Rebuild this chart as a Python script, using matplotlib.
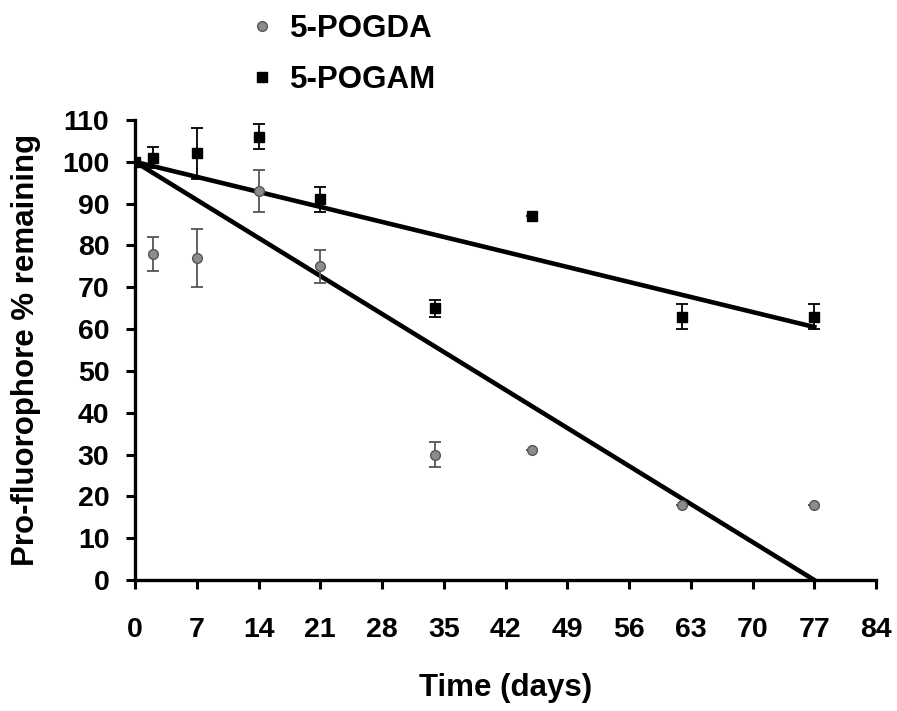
import matplotlib
matplotlib.use("Agg")
import matplotlib.pyplot as plt
from matplotlib.lines import Line2D

plt.rcParams["font.family"] = ["Liberation Sans", "DejaVu Sans"]
plt.rcParams["font.weight"] = "bold"

# measured time points (days)
days = [0, 2, 7, 14, 21, 34, 45, 62, 77]

pogda = [100, 78, 77, 93, 75, 30, 31, 18, 18]
pogda_err = [0, 4, 7, 5, 4, 3, 0, 0, 0]

pogam = [100, 101, 102, 106, 91, 65, 87, 63, 63]
pogam_err = [0, 2.5, 6, 3, 3, 2, 0, 3, 3]

# linear fits drawn in the figure (start, end)
fit_days = [0, 77]
pogda_fit = [100, 0]
pogam_fit = [100, 60.5]

xticks = list(range(0, 85, 7))
yticks = list(range(0, 111, 10))

fig = plt.figure(figsize=(8.97, 7.11), dpi=100)
ax = fig.add_axes([0.1505, 0.1842, 0.8261, 0.647])

ax.plot(fit_days, pogda_fit, color="black", lw=3.3, zorder=2)
ax.plot(fit_days, pogam_fit, color="black", lw=3.3, zorder=2)

ax.errorbar(days, pogda, yerr=pogda_err, fmt="o", mfc="#8c8c8c",
            mec="#555555", ms=7, ecolor="#555555", elinewidth=1.3, capsize=4,
            capthick=1.3, zorder=3)
ax.errorbar(days, pogam, yerr=pogam_err, fmt="s", color="black", ms=7.5,
            ecolor="black", elinewidth=1.3, capsize=4, capthick=1.3, zorder=3)

ax.set_xlim(0, 84)
ax.set_ylim(0, 110)
ax.set_xticks(xticks)
ax.set_yticks(yticks)
ax.tick_params(axis="both", direction="out", length=6.5, width=2.2, labelsize=20.5)
ax.tick_params(axis="x", pad=20)
ax.tick_params(axis="y", pad=12)
for side in ["top", "right"]:
    ax.spines[side].set_visible(False)
for side in ["left", "bottom"]:
    ax.spines[side].set_linewidth(2.4)

ax.set_xlabel("Time (days)", fontsize=22.5, fontweight="bold", labelpad=22)
ax.set_ylabel("Pro-fluorophore % remaining", fontsize=22.5, fontweight="bold", labelpad=15)

handles = [
    Line2D([], [], ls="none", marker="o", mfc="#8c8c8c", mec="#555555", ms=7),
    Line2D([], [], ls="none", marker="s", color="black", ms=7),
]
fig.legend(handles, ["5-POGDA", "5-POGAM"], loc="upper left",
           bbox_to_anchor=(0.243, 1.02), frameon=False,
           labelspacing=0.68, handletextpad=0.4, handlelength=1.0,
           prop={"weight": "bold", "size": 22.5})

fig.savefig("out.png", dpi=100)
